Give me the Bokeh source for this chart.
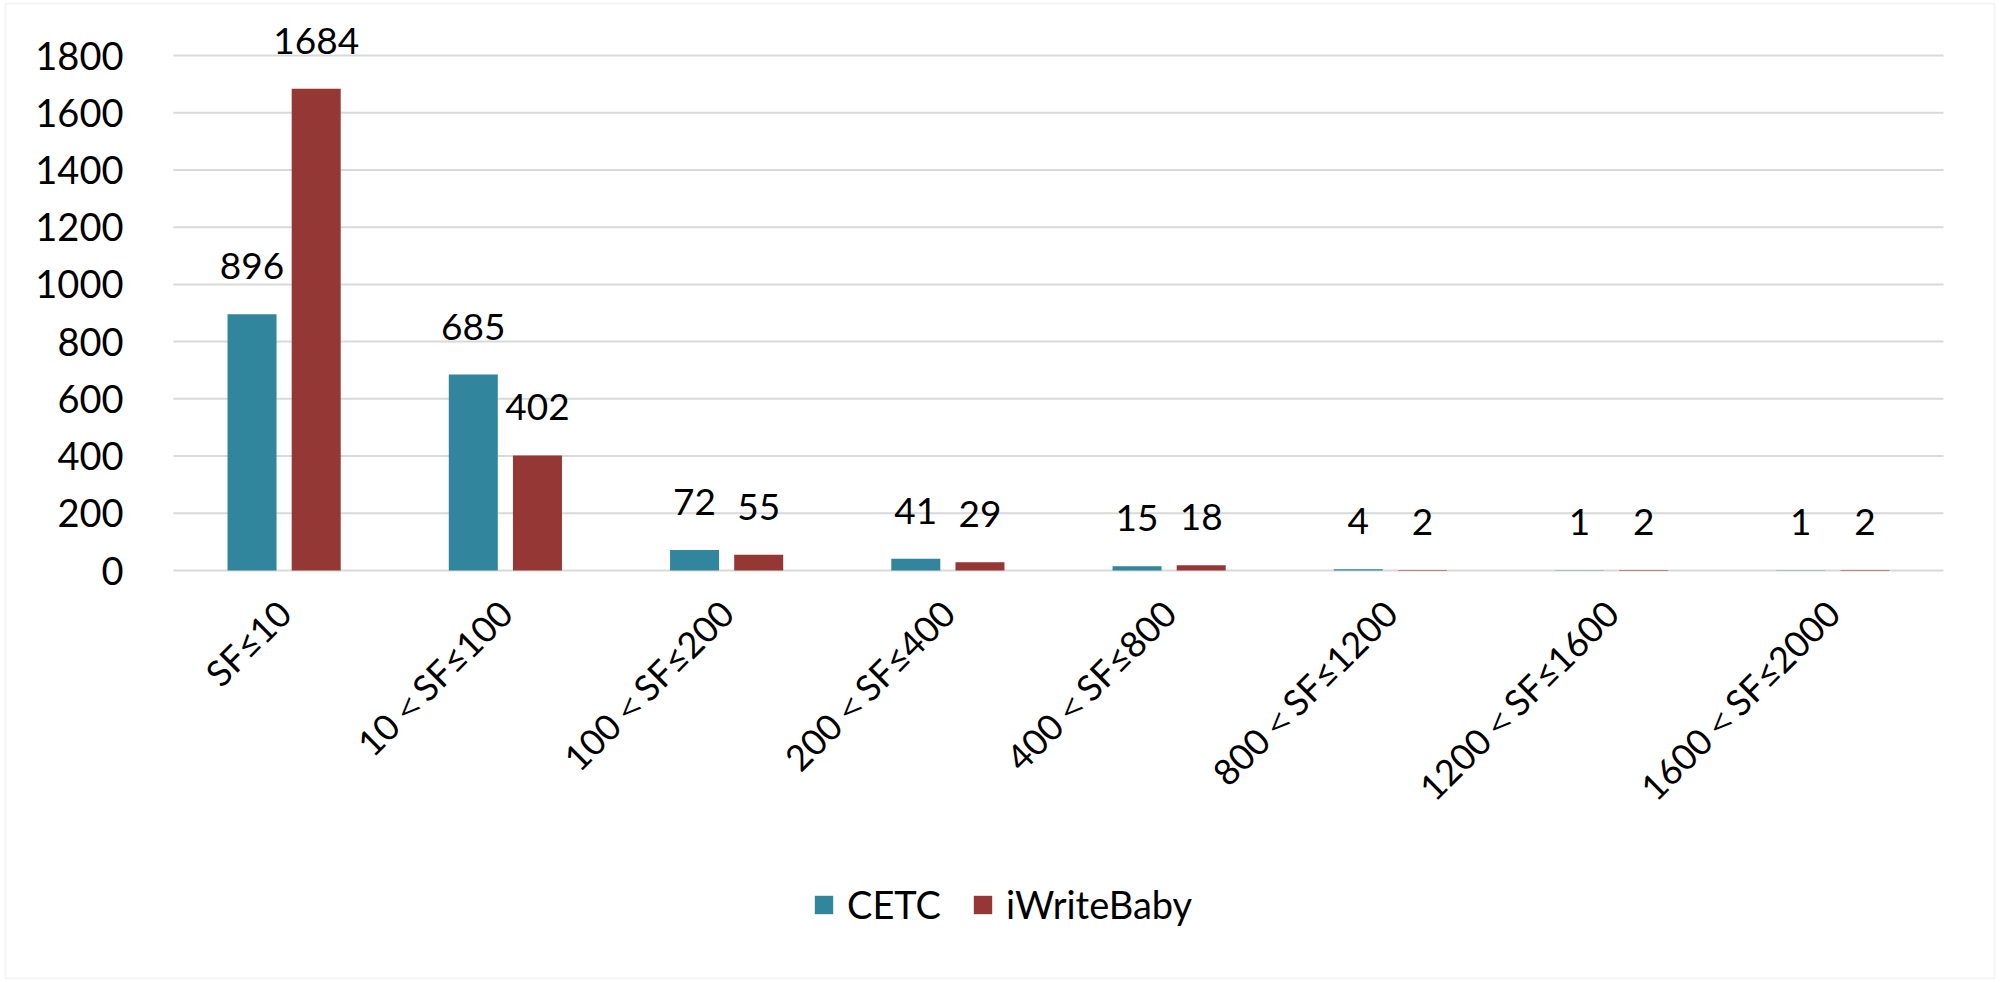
import math
from bokeh.plotting import figure
from bokeh.models import (Range1d, ColumnDataSource, LabelSet,
                          Legend, LegendItem, FixedTicker, BoxAnnotation)
from bokeh.core.properties import value
from bokeh.embed import file_html
from bokeh.resources import INLINE

categories = ["SF≤10", "10＜SF≤100", "100＜SF≤200", "200＜SF≤400",
              "400＜SF≤800", "800＜SF≤1200", "1200＜SF≤1600", "1600＜SF≤2000"]
cetc = [896, 685, 72, 41, 15, 4, 1, 1]
iwritebaby = [1684, 402, 55, 29, 18, 2, 2, 2]
y_ticks = [0, 200, 400, 600, 800, 1000, 1200, 1400, 1600, 1800]
series_names = ["CETC", "iWriteBaby"]

FONT = "Lato"
C1 = "#31859C"
C2 = "#953735"
GRID = "#D9D9D9"

W, H = 1996, 980
n = len(categories)
off = 0.145
bw = 0.2215
centers = [i + 0.5 for i in range(n)]

src = ColumnDataSource(dict(
    xc=[c - off for c in centers],
    xi=[c + off for c in centers],
    cetc=cetc,
    iwb=iwritebaby,
    cetc_lbl=[str(v) for v in cetc],
    iwb_lbl=[str(v) for v in iwritebaby],
))

# frame fills the whole canvas; axes are placed inside it
p = figure(x_range=Range1d(-0.7819, 8.2395),
           y_range=Range1d(-1433.0, 1992.3),
           width=W, height=H,
           output_backend="svg", toolbar_location=None,
           min_border=0, min_border_left=0, min_border_right=0,
           min_border_top=0, min_border_bottom=0)

# gridlines spanning the category area only
p.segment(x0=0, x1=n, y0=y_ticks, y1=y_ticks, line_color=GRID, line_width=2)

r1 = p.vbar(x="xc", top="cetc", width=bw, source=src,
            fill_color=C1, line_color=None)
r2 = p.vbar(x="xi", top="iwb", width=bw, source=src,
            fill_color=C2, line_color=None)

for xcol, col, lbl in (("xc", "cetc", "cetc_lbl"), ("xi", "iwb", "iwb_lbl")):
    ls = LabelSet(x=xcol, y=col, text=lbl,
                  source=src, y_offset=35, text_align="center",
                  text_baseline="alphabetic", text_font=value(FONT),
                  text_font_size="37px", text_color="#000000")
    p.add_layout(ls)

legend = Legend(items=[LegendItem(label=series_names[0], renderers=[r1]),
                       LegendItem(label=series_names[1], renderers=[r2])],
                location=(812, 53), orientation="horizontal",
                glyph_width=23, glyph_height=23, label_standoff=12,
                spacing=30, padding=10, margin=0,
                label_text_font=FONT, label_text_font_size="38px",
                label_text_color="#000000",
                border_line_color=None, background_fill_alpha=0)
p.add_layout(legend)

outer = BoxAnnotation(left=5, right=W - 2, bottom=2, top=H - 3,
                      left_units="screen", right_units="screen",
                      top_units="screen", bottom_units="screen",
                      fill_alpha=0, line_color=GRID, line_width=2)
p.add_layout(outer)

p.xaxis.fixed_location = 0
p.xaxis.ticker = FixedTicker(ticks=centers)
p.xaxis.major_label_overrides = {c: lab for c, lab in zip(centers, categories)}
p.xaxis.major_label_orientation = math.pi / 4
p.xaxis.major_label_text_font = FONT
p.xaxis.major_label_text_font_size = "36px"
p.xaxis.major_label_text_color = "#000000"
p.xaxis.major_tick_line_color = None
p.xaxis.minor_tick_line_color = None
p.xaxis.axis_line_color = None
p.xaxis.major_label_standoff = 30

p.yaxis.fixed_location = 0
p.yaxis.ticker = FixedTicker(ticks=y_ticks)
p.yaxis.axis_line_color = None
p.yaxis.major_tick_line_color = None
p.yaxis.minor_tick_line_color = None
p.yaxis.major_tick_out = 0
p.yaxis.major_label_standoff = 50
p.yaxis.major_label_text_font = FONT
p.yaxis.major_label_text_font_size = "38px"
p.yaxis.major_label_text_color = "#000000"

p.xgrid.grid_line_color = None
p.ygrid.grid_line_color = None
p.outline_line_color = None

open("out.html", "w").write(file_html(p, INLINE))
